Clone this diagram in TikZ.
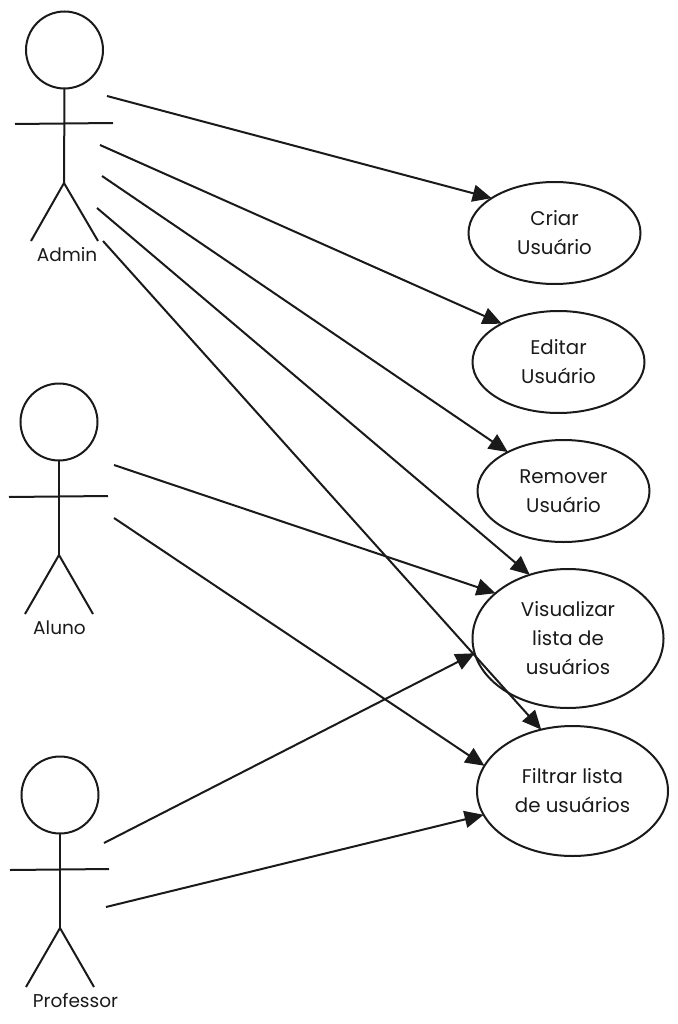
\documentclass[tikz,border=0pt]{standalone}
\usepackage{fontspec}
\setmainfont{Poppins}
\usetikzlibrary{shapes.geometric,arrows.meta}
\definecolor{ink}{HTML}{1A1A1A}
\tikzset{
  x=1pt,y=-1pt,
  line/.style={draw=ink,line width=2pt},
  conn/.style={line,-{Triangle[length=19pt,width=17pt]},shorten >=0pt},
  usecase/.style={ellipse,line,inner sep=0pt,outer sep=0pt,align=center,text=ink,font=\fontsize{19.8}{29}\selectfont},
  small/.style={usecase,minimum width=172pt,minimum height=102pt},
  big/.style={usecase,minimum width=191pt},
  head/.style={circle,line,inner sep=0pt,outer sep=0pt,minimum size=77pt},
  actorlabel/.style={text=ink,inner sep=0pt,font=\fontsize{18.5}{21}\selectfont},
}
\begin{document}
\begin{tikzpicture}
\useasboundingbox (0,0) rectangle (677,1024);
% Use cases
\node[small] (criar) at (554.5,233) {Criar\\Usuário};
\node[small] (editar) at (558.5,362) {Editar\\Usuário};
\node[small] (remover) at (563.5,491) {Remover\\Usuário};
\node[big,minimum height=139pt] (visualizar) at (568,638.5) {Visualizar\\lista de\\usuários};
\node[big,minimum height=130pt] (filtrar) at (572.5,791) {Filtrar lista\\de usuários};
% Admin
\node[head] (adminhead) at (64.5,50) {};
\coordinate (adminhip) at (64,183);
\coordinate (adminarmL) at (15,124);
\coordinate (adminarmR) at (113,123);
\coordinate (adminfootL) at (31,241);
\coordinate (adminfootR) at (98,241);
\draw[line] (adminhead.south) -- (adminhip);
\draw[line] (adminarmL) -- (adminarmR);
\draw[line] (adminfootL) -- (adminhip) -- (adminfootR);
\node[actorlabel] (adminlabel) at (67,255) {Admin};
% Aluno
\node[head] (alunohead) at (59,422) {};
\coordinate (alunohip) at (59,555);
\coordinate (alunoarmL) at (9,497);
\coordinate (alunoarmR) at (108,496);
\coordinate (alunofootL) at (25,614);
\coordinate (alunofootR) at (93,614);
\draw[line] (alunohead.south) -- (alunohip);
\draw[line] (alunoarmL) -- (alunoarmR);
\draw[line] (alunofootL) -- (alunohip) -- (alunofootR);
\node[actorlabel] (alunolabel) at (59.5,628) {Aluno};
% Professor
\node[head] (profhead) at (60,795) {};
\coordinate (profhip) at (60,928);
\coordinate (profarmL) at (10,870);
\coordinate (profarmR) at (109,869);
\coordinate (proffootL) at (26,987);
\coordinate (proffootR) at (94,987);
\draw[line] (profhead.south) -- (profhip);
\draw[line] (profarmL) -- (profarmR);
\draw[line] (proffootL) -- (profhip) -- (proffootR);
\node[actorlabel] (proflabel) at (75.5,1001) {Professor};
% Connector starts
\coordinate (a1) at (107,96);
\coordinate (a2) at (100,145);
\coordinate (a3) at (102,176);
\coordinate (a4) at (97,208);
\coordinate (a5) at (103,241);
\coordinate (b1) at (114,465);
\coordinate (b2) at (114,518);
\coordinate (c1) at (104,843);
\coordinate (c2) at (106,907);
% Connectors
\draw[conn] (a1) -- (criar.151);
\draw[conn] (a2) -- (editar.146.3);
\draw[conn] (a3) -- (remover.145);
\draw[conn] (a4) -- (visualizar.121.6);
\draw[conn] (a5) -- (filtrar.117.3);
\draw[conn] (b1) -- (visualizar.148.2);
\draw[conn] (b2) -- (filtrar.164.1);
\draw[conn] (c1) -- (visualizar.189.8);
\draw[conn] (c2) -- (filtrar.195.4);
\end{tikzpicture}
\end{document}
